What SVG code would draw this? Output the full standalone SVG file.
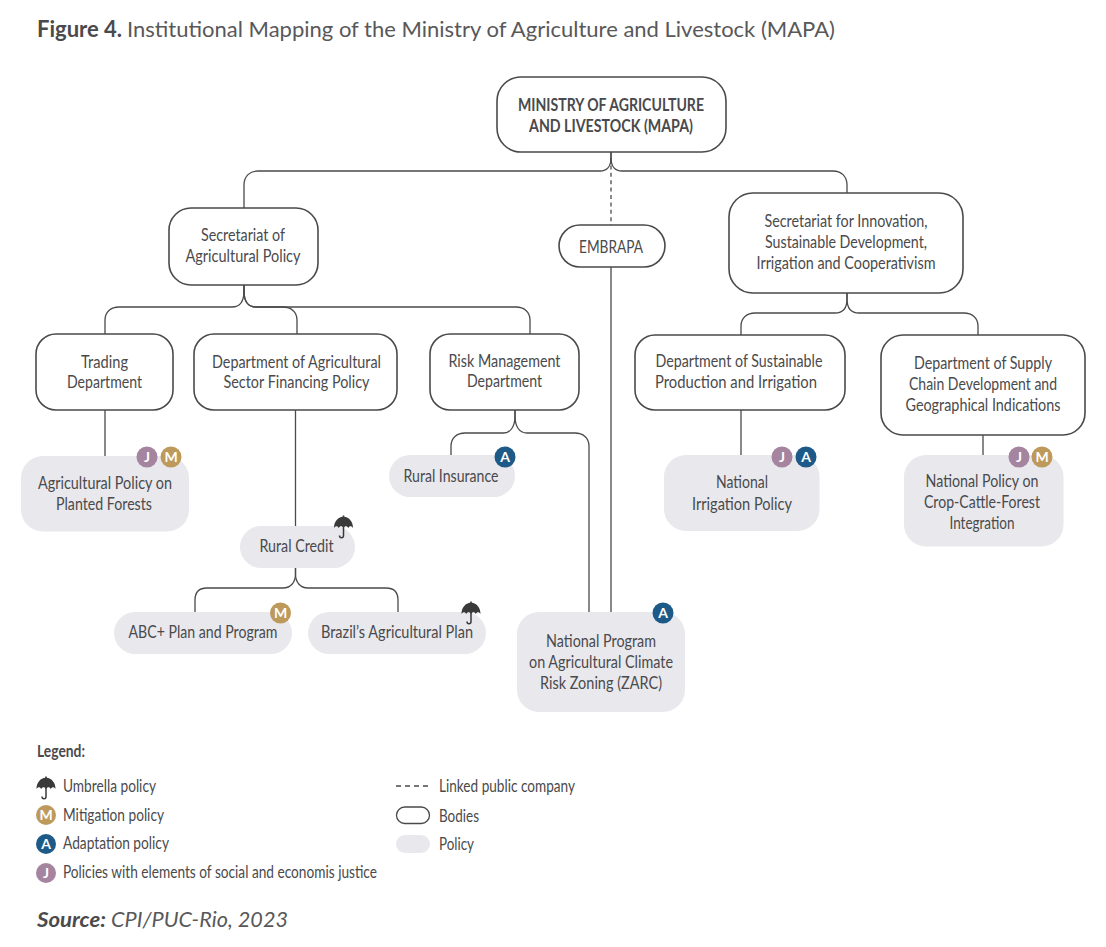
<svg xmlns="http://www.w3.org/2000/svg" width="1106" height="947" viewBox="0 0 1106 947">
<style>
text{font-family:"Lato","Liberation Sans",sans-serif;fill:#4a4a4c;font-size:16.5px}
.c{text-anchor:middle}
.b{font-weight:700}
.body{fill:#fff;stroke:#4a4a4c;stroke-width:1.6}
.pol{fill:#e8e8ed}
.ln{fill:none;stroke:#4a4a4c;stroke-width:1.3}
.bt{fill:#fff;font-weight:700;font-size:14px;text-anchor:middle}
.m{fill:#bd9a5c}.a{fill:#1d5a87}.j{fill:#a5849f}
.u{fill:#3a3a3a}
.us{fill:none;stroke:#3a3a3a;stroke-width:1.5}
</style>
<defs>
<g id="umb"><path class="u" d="M-9.500,0C-9.500,-7 -5,-11 -0.800,-11.300V-12.500H0.800V-11.300C5,-11 9.500,-7 9.500,0C8,-2.200 6,-2.200 4.800,0C3.500,-2.200 1.500,-2.200 0,0C-1.500,-2.200 -3.500,-2.200 -4.800,0C-6,-2.200 -8,-2.200 -9.500,0Z"/><path class="us" d="M0,-1V7.500C0,10.500 -4,10.500 -4,7.500"/></g>
</defs>
<rect width="1106" height="947" fill="#fff"/>
<text x="37" y="37" style="font-size:22px" class="b" textLength="85" lengthAdjust="spacingAndGlyphs">Figure 4.</text>
<text x="127" y="37" style="font-size:22px;fill:#58585a" textLength="708" lengthAdjust="spacingAndGlyphs">Institutional Mapping of the Ministry of Agriculture and Livestock (MAPA)</text>
<g id="connectors">
<path class="ln" d="M611,152V158C611,166 607,171 600,171H258C250,171 244,176 244,185V208"/>
<path class="ln" d="M611,152V158C611,166 615,171 622,171H833C841,171 847,176 847,185V193"/>
<path class="ln" stroke-dasharray="4 3.400" d="M611,158V225"/>
<path class="ln" d="M611,267V612"/>
<path class="ln" d="M244,285V291C244,301 240,307 232,307H119C111,307 105,312 105,320V334"/>
<path class="ln" d="M244,285V291C244,301 248,307 256,307H283C291,307 297,312 297,320V334"/>
<path class="ln" d="M244,285V291C244,301 248,307 256,307H516C524,307 530,312 530,320V334"/>
<path class="ln" d="M847,293V299C847,308 843,313 835,313H755C747,313 741,318 741,326V335"/>
<path class="ln" d="M847,293V299C847,308 851,313 859,313H964C972,313 978,318 978,326V335"/>
<path class="ln" d="M105,410V456"/>
<path class="ln" d="M295.500,410V526"/>
<path class="ln" d="M515,410V416C515,426 511,433 503,433H465C457,433 451,438 451,446V455"/>
<path class="ln" d="M515,410V416C515,426 519,433 527,433H575C583,433 589,438 589,446V612"/>
<path class="ln" d="M741,410V455"/>
<path class="ln" d="M983,435V455"/>
<path class="ln" d="M295.500,568V574C295.500,582 291,588 283,588H207C199,588 195,592 195,600V612"/>
<path class="ln" d="M295.500,568V574C295.500,582 300,588 308,588H386C394,588 398,592 398,600V612"/>
</g>
<g id="n-ministry"><rect class="body" x="497" y="77" width="229" height="75" rx="24"/>
<text class="c b" x="611" y="111" textLength="186" lengthAdjust="spacingAndGlyphs">MINISTRY OF AGRICULTURE</text>
<text class="c b" x="611" y="132" textLength="164" lengthAdjust="spacingAndGlyphs">AND LIVESTOCK (MAPA)</text></g>
<g id="n-sap"><rect class="body" x="169" y="208" width="149" height="77" rx="22"/>
<text class="c" x="243" y="241" textLength="84" lengthAdjust="spacingAndGlyphs">Secretariat of</text>
<text class="c" x="243" y="262" textLength="115" lengthAdjust="spacingAndGlyphs">Agricultural Policy</text></g>
<g id="n-embrapa"><rect class="body" x="559" y="225" width="106" height="42" rx="21"/>
<text class="c" x="611" y="253" textLength="64" lengthAdjust="spacingAndGlyphs">EMBRAPA</text></g>
<g id="n-sec-innov"><rect class="body" x="729" y="193" width="234" height="100" rx="24"/>
<text class="c" x="846" y="227" textLength="163" lengthAdjust="spacingAndGlyphs">Secretariat for Innovation,</text>
<text class="c" x="846" y="248" textLength="162" lengthAdjust="spacingAndGlyphs">Sustainable Development,</text>
<text class="c" x="846" y="269" textLength="179" lengthAdjust="spacingAndGlyphs">Irrigation and Cooperativism</text></g>
<g id="n-trading"><rect class="body" x="36" y="334" width="137" height="76" rx="20"/>
<text class="c" x="104.500" y="368" textLength="47" lengthAdjust="spacingAndGlyphs">Trading</text>
<text class="c" x="104.500" y="388" textLength="75" lengthAdjust="spacingAndGlyphs">Department</text></g>
<g id="n-finance"><rect class="body" x="194" y="334" width="203" height="76" rx="20"/>
<text class="c" x="296.500" y="368" textLength="169" lengthAdjust="spacingAndGlyphs">Department of Agricultural</text>
<text class="c" x="296.500" y="388" textLength="146" lengthAdjust="spacingAndGlyphs">Sector Financing Policy</text></g>
<g id="n-risk"><rect class="body" x="430" y="334" width="149" height="76" rx="20"/>
<text class="c" x="504.500" y="367" textLength="112" lengthAdjust="spacingAndGlyphs">Risk Management</text>
<text class="c" x="504.500" y="387" textLength="75" lengthAdjust="spacingAndGlyphs">Department</text></g>
<g id="n-sustain"><rect class="body" x="635" y="335" width="210" height="75" rx="20"/>
<text class="c" x="739" y="367" textLength="167" lengthAdjust="spacingAndGlyphs">Department of Sustainable</text>
<text class="c" x="736" y="388" textLength="162" lengthAdjust="spacingAndGlyphs">Production and Irrigation</text></g>
<g id="n-supply"><rect class="body" x="881" y="335" width="204" height="100" rx="22"/>
<text class="c" x="983" y="369" textLength="138" lengthAdjust="spacingAndGlyphs">Department of Supply</text>
<text class="c" x="983" y="390" textLength="148" lengthAdjust="spacingAndGlyphs">Chain Development and</text>
<text class="c" x="983" y="411" textLength="155" lengthAdjust="spacingAndGlyphs">Geographical Indications</text></g>
<g id="p-forests"><rect class="pol" x="21" y="456" width="168" height="75.500" rx="22"/>
<text class="c" x="105" y="489" textLength="134" lengthAdjust="spacingAndGlyphs">Agricultural Policy on</text>
<text class="c" x="104" y="510" textLength="96" lengthAdjust="spacingAndGlyphs">Planted Forests</text>
<circle class="j" cx="147" cy="457" r="10.500"/><text class="bt" x="147" y="462">J</text>
<circle class="m" cx="171" cy="457" r="10.500"/><text class="bt" x="171" y="462">M</text></g>
<g id="p-insurance"><rect class="pol" x="389" y="455" width="126" height="42" rx="21"/>
<text class="c" x="451" y="482" textLength="95" lengthAdjust="spacingAndGlyphs">Rural Insurance</text>
<circle class="a" cx="505" cy="457" r="10.500"/><text class="bt" x="505" y="462">A</text></g>
<g id="p-credit"><rect class="pol" x="240" y="526" width="115" height="42" rx="21"/>
<text class="c" x="296.500" y="552" textLength="74" lengthAdjust="spacingAndGlyphs">Rural Credit</text>
<use href="#umb" x="343.500" y="528"/></g>
<g id="p-abc"><rect class="pol" x="114" y="612" width="178" height="42" rx="21"/>
<text class="c" x="203" y="638" textLength="149" lengthAdjust="spacingAndGlyphs">ABC+ Plan and Program</text>
<circle class="m" cx="280.500" cy="613" r="10.500"/><text class="bt" x="280.500" y="618">M</text></g>
<g id="p-brazil"><rect class="pol" x="308" y="612" width="178" height="42" rx="21"/>
<text class="c" x="397" y="638" textLength="152" lengthAdjust="spacingAndGlyphs">Brazil’s Agricultural Plan</text>
<use href="#umb" x="471" y="614"/></g>
<g id="p-zarc"><rect class="pol" x="517" y="612" width="168" height="100" rx="22"/>
<text class="c" x="601" y="647" textLength="110" lengthAdjust="spacingAndGlyphs">National Program</text>
<text class="c" x="601" y="668" textLength="144" lengthAdjust="spacingAndGlyphs">on Agricultural Climate</text>
<text class="c" x="601" y="689" textLength="122" lengthAdjust="spacingAndGlyphs">Risk Zoning (ZARC)</text>
<circle class="a" cx="663" cy="613" r="10.500"/><text class="bt" x="663" y="618">A</text></g>
<g id="p-irrigation"><rect class="pol" x="664" y="455" width="155.500" height="76" rx="22"/>
<text class="c" x="742" y="488" textLength="52" lengthAdjust="spacingAndGlyphs">National</text>
<text class="c" x="742" y="510" textLength="100" lengthAdjust="spacingAndGlyphs">Irrigation Policy</text>
<circle class="j" cx="782" cy="457" r="10.500"/><text class="bt" x="782" y="462">J</text>
<circle class="a" cx="806" cy="457" r="10.500"/><text class="bt" x="806" y="462">A</text></g>
<g id="p-crop"><rect class="pol" x="904" y="455" width="159.500" height="91.500" rx="22"/>
<text class="c" x="982" y="487" textLength="113" lengthAdjust="spacingAndGlyphs">National Policy on</text>
<text class="c" x="982" y="508" textLength="116" lengthAdjust="spacingAndGlyphs">Crop-Cattle-Forest</text>
<text class="c" x="982" y="529" textLength="65" lengthAdjust="spacingAndGlyphs">Integration</text>
<circle class="j" cx="1019" cy="457" r="10.500"/><text class="bt" x="1019" y="462">J</text>
<circle class="m" cx="1042" cy="457" r="10.500"/><text class="bt" x="1042" y="462">M</text></g>
<g id="legend">
<text x="37" y="757" style="font-size:17px;font-weight:700" textLength="48" lengthAdjust="spacingAndGlyphs">Legend:</text>
<use href="#umb" x="46" y="789"/>
<text x="63" y="792" textLength="93" lengthAdjust="spacingAndGlyphs">Umbrella policy</text>
<circle class="m" cx="46" cy="815" r="10"/><text class="bt" x="46" y="820">M</text>
<text x="63" y="821" textLength="101" lengthAdjust="spacingAndGlyphs">Mitigation policy</text>
<circle class="a" cx="46" cy="844" r="10"/><text class="bt" x="46" y="849">A</text>
<text x="63" y="849" textLength="106" lengthAdjust="spacingAndGlyphs">Adaptation policy</text>
<circle class="j" cx="46" cy="873" r="10"/><text class="bt" x="46" y="878">J</text>
<text x="63" y="878" textLength="314" lengthAdjust="spacingAndGlyphs">Policies with elements of social and economis justice</text>
<path class="ln" stroke-dasharray="5 4" d="M396,786H430"/>
<text x="439" y="792" textLength="136" lengthAdjust="spacingAndGlyphs">Linked public company</text>
<rect class="body" x="396.500" y="807" width="33" height="16.500" rx="8.250" style="stroke-width:1.300"/>
<text x="439" y="822" textLength="40" lengthAdjust="spacingAndGlyphs">Bodies</text>
<rect class="pol" x="396" y="835" width="34" height="18" rx="9"/>
<text x="439" y="850" textLength="35" lengthAdjust="spacingAndGlyphs">Policy</text>
</g>
<text x="37" y="927" style="font-size:21px;font-weight:700;font-style:italic" textLength="69" lengthAdjust="spacingAndGlyphs">Source:</text>
<text x="111" y="927" style="font-size:21px;font-style:italic;fill:#58585a" textLength="177" lengthAdjust="spacingAndGlyphs">CPI/PUC-Rio, 2023</text>
</svg>
